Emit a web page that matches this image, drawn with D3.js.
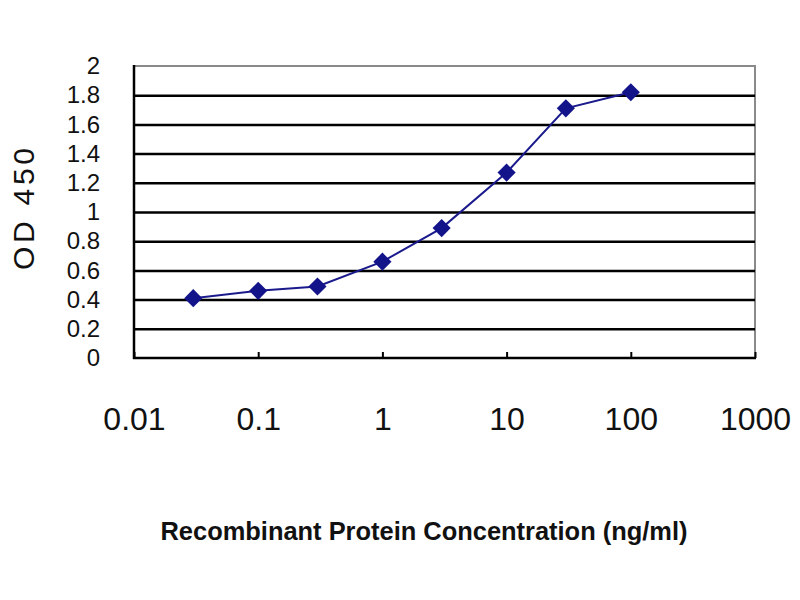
<!DOCTYPE html>
<html>
<head>
<meta charset="utf-8">
<script src="https://cdn.jsdelivr.net/npm/d3@7"></script>
<style>
  html, body { margin: 0; padding: 0; background: #fff; }
  svg { display: block; font-family: Arial, "Liberation Sans", sans-serif; }
</style>
</head>
<body>
<svg id="chart" width="800" height="600"></svg>
<script>
const concentrations = [0.03, 0.1, 0.3, 1, 3, 10, 30, 100];
const odValues = [0.41, 0.46, 0.49, 0.66, 0.89, 1.27, 1.71, 1.82];
const xTicks = [0.01, 0.1, 1, 10, 100, 1000];
const xTickLabels = ["0.01", "0.1", "1", "10", "100", "1000"];
const yTicks = [0, 0.2, 0.4, 0.6, 0.8, 1, 1.2, 1.4, 1.6, 1.8, 2];
const yTickLabels = ["0", "0.2", "0.4", "0.6", "0.8", "1", "1.2", "1.4", "1.6", "1.8", "2"];
const xTitle = "Recombinant Protein Concentration (ng/ml)";
const yTitle = "OD 450";

const svg = d3.select("#chart");
const L = 134, R = 755, T = 66, B = 358;

const x = d3.scaleLog().domain([0.01, 1000]).range([L, R]);
const y = d3.scaleLinear().domain([0, 2]).range([B, T]);

// plot frame
svg.append("rect")
  .attr("x", L).attr("y", T).attr("width", R - L).attr("height", B - T)
  .attr("fill", "#fff").attr("stroke", "#8a8a8a").attr("stroke-width", 2);

// gridlines
const grid = svg.append("g").attr("transform", `translate(${L},0)`)
  .call(d3.axisLeft(y).tickValues(yTicks.filter(v => v > 0 && v < 2))
    .tickSize(-(R - L)).tickFormat(""));
grid.select(".domain").remove();
grid.selectAll(".tick line").attr("stroke", "#000").attr("stroke-width", 2.5);

// y axis labels
const yAxis = svg.append("g").attr("transform", `translate(${L},0)`)
  .call(d3.axisLeft(y).tickValues(yTicks).tickSize(0).tickPadding(34)
    .tickFormat((d, i) => yTickLabels[i]));
yAxis.select(".domain").remove();
yAxis.selectAll(".tick text")
  .attr("font-size", 24).attr("fill", "#111")
  .attr("font-family", "Arial, 'Liberation Sans', sans-serif");

// x axis
const xAxis = svg.append("g").attr("transform", `translate(0,${B})`)
  .call(d3.axisBottom(x).tickValues(xTicks).tickSizeInner(-6).tickSizeOuter(0)
    .tickPadding(49).tickFormat((d, i) => xTickLabels[i]));
xAxis.select(".domain").remove();
xAxis.selectAll(".tick line").attr("stroke", "#000").attr("stroke-width", 2);
xAxis.selectAll(".tick text")
  .attr("font-size", 32).attr("fill", "#111")
  .attr("font-family", "Arial, 'Liberation Sans', sans-serif");

// left and bottom axis lines
svg.append("line").attr("x1", L).attr("x2", L).attr("y1", T - 1).attr("y2", B + 1)
  .attr("stroke", "#000").attr("stroke-width", 2.5);
svg.append("line").attr("x1", L - 1).attr("x2", R + 1).attr("y1", B).attr("y2", B)
  .attr("stroke", "#000").attr("stroke-width", 2.5);

// series line
const pts = concentrations.map((c, i) => [c, odValues[i]]);
svg.append("path")
  .datum(pts)
  .attr("fill", "none")
  .attr("stroke", "#1a1a8c")
  .attr("stroke-width", 2)
  .attr("d", d3.line().x(d => x(d[0])).y(d => y(d[1])));

// diamond markers
svg.append("g").selectAll("path.m")
  .data(pts).join("path")
  .attr("class", "m")
  .attr("transform", d => `translate(${x(d[0])},${y(d[1])})`)
  .attr("d", d3.symbol().type(d3.symbolDiamond2 || d3.symbolDiamond).size(210))
  .attr("fill", "#14148a");

// axis titles
svg.append("text")
  .attr("x", 424).attr("y", 540)
  .attr("text-anchor", "middle")
  .attr("font-size", 26).attr("font-weight", "bold").attr("fill", "#111")
  .attr("textLength", 527).attr("lengthAdjust", "spacingAndGlyphs")
  .text(xTitle);

svg.append("text")
  .attr("transform", "translate(34,209) rotate(-90)")
  .attr("text-anchor", "middle")
  .attr("font-size", 30).attr("fill", "#111")
  .attr("textLength", 122).attr("lengthAdjust", "spacing")
  .text(yTitle);
</script>
</body>
</html>
